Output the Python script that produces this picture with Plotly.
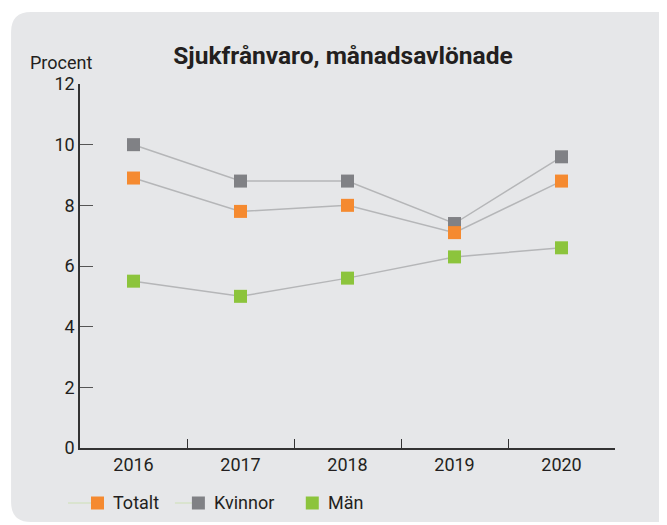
import plotly.graph_objects as go

years = ["2016", "2017", "2018", "2019", "2020"]
totalt = [8.9, 7.8, 8.0, 7.1, 8.8]
kvinnor = [10.0, 8.8, 8.8, 7.4, 9.6]
man = [5.5, 5.0, 5.6, 6.3, 6.6]
y_ticks = [0, 2, 4, 6, 8, 10, 12]
names = ["Totalt", "Kvinnor", "Män"]
colors = ["#f58a30", "#808185", "#8cc43c"]

W, H = 667, 525
L, T = 72, 76
PR, PB = 607.5, 440  # plot right / bottom in px
R, B = W - PR, H - PB
pw, ph = PR - L, PB - T

line_col = "#b5b6b8"
data = {"Totalt": totalt, "Kvinnor": kvinnor, "Män": man}
col = dict(zip(names, colors))

fig = go.Figure()
for n in names:
    fig.add_trace(go.Scatter(
        x=years, y=data[n], mode="lines", line=dict(color=line_col, width=1.5),
        showlegend=False, hoverinfo="skip"))
for n in ["Kvinnor", "Totalt", "Män"]:
    fig.add_trace(go.Scatter(
        x=years, y=data[n], mode="markers", name=n,
        marker=dict(symbol="square", size=13, color=col[n], line=dict(width=0)),
        showlegend=False))


def px_x(px):
    return (px - L) / pw


def px_y(py):
    return (PB - py) / ph


# background card
x0, x1, y0, y1 = px_x(3), px_x(700), px_y(4), px_y(514)
rx, ry = 20 / pw, 20 / ph
path = (f"M {x0+rx},{y0} L {x1},{y0} L {x1},{y1} L {x0+rx},{y1} "
        f"Q {x0},{y1} {x0},{y1+ry} L {x0},{y0-ry} Q {x0},{y0} {x0+rx},{y0} Z")
shapes = [dict(type="path", path=path, xref="paper", yref="paper",
               fillcolor="#e6e7e9", line=dict(width=0), layer="below")]
annotations = [dict(text="Procent", x=px_x(86), y=px_y(55),
                    xref="paper", yref="paper", xanchor="right", yanchor="middle",
                    showarrow=False, font=dict(size=18, color="#231f20"))]

# legend (manual swatches)
leg_y = 495
leg_items = [("Totalt", 60, 83, True), ("Kvinnor", 167, 184, True), ("Män", 298, 298, False)]
for n, lx0, sq, has_line in leg_items:
    if has_line:
        shapes.append(dict(type="line", xref="paper", yref="paper",
                           x0=px_x(lx0), x1=px_x(sq), y0=px_y(leg_y), y1=px_y(leg_y),
                           line=dict(color="#cde0b5", width=1)))
    shapes.append(dict(type="rect", xref="paper", yref="paper",
                       x0=px_x(sq), x1=px_x(sq + 13), y0=px_y(leg_y - 6.5), y1=px_y(leg_y + 6.5),
                       fillcolor=col[n], line=dict(width=0)))
    annotations.append(dict(text=n, x=px_x(sq + 20), y=px_y(leg_y), xref="paper", yref="paper",
                            xanchor="left", yanchor="middle", showarrow=False,
                            font=dict(size=18, color="#231f20")))

fig.update_layout(
    width=W, height=H,
    margin=dict(l=L, r=R, t=T, b=B, autoexpand=False),
    paper_bgcolor="white", plot_bgcolor="rgba(0,0,0,0)",
    font=dict(family="Roboto", size=18, color="#231f20"),
    shapes=shapes, annotations=annotations, showlegend=False,
    title=dict(text="<b>Sjukfrånvaro, månadsavlönade</b>", font=dict(size=24.5, color="#231f20"),
               x=335 / W, xanchor="center", y=1 - 47 / H, yanchor="middle",
               xref="container", yref="container"),
    xaxis=dict(type="category", categoryorder="array", categoryarray=years,
               range=[-0.5, 4.5], showgrid=False, zeroline=False,
               showline=True, linecolor="#333333", linewidth=1.5,
               ticks="inside", tickson="boundaries", ticklen=9, tickcolor="#333333",
               tickwidth=1, tickfont=dict(size=18, color="#231f20")),
    yaxis=dict(range=[0, 12], tickvals=y_ticks, showgrid=False, zeroline=False,
               showline=True, linecolor="#333333", linewidth=1.5,
               ticks="inside", ticklen=13, tickcolor="#555555", tickwidth=1,
               tickfont=dict(size=18, color="#231f20")),
)

fig.write_html("out.html")
